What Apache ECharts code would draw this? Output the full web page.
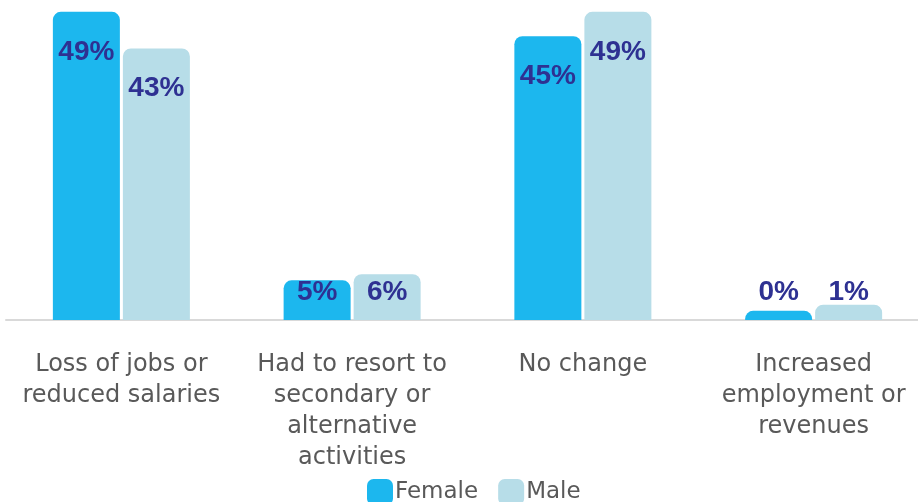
<!DOCTYPE html>
<html>
<head>
<meta charset="utf-8">
<script src="https://cdn.jsdelivr.net/npm/echarts@6/dist/echarts.min.js"></script>
<style>
    html, body { margin: 0; padding: 0; background: #fff; }
    #main { width: 918px; height: 502px; }
</style>
</head>
<body>
<div id="main"></div>
<script>
const categories = [
    'Loss of jobs or\nreduced salaries',
    'Had to resort to\nsecondary or\nalternative\nactivities',
    'No change',
    'Increased\nemployment or\nrevenues'
];
const female = [49, 5, 45, 0];
const male = [43, 6, 49, 1];
// the source value axis starts a little below zero
const axisMin = -1.5;
const axisMax = 49.3;

const femaleColor = '#1CB7EE';
const maleColor = '#B7DDE8';
const labelColor = '#2E3192';

window.addEventListener('load', function () {
    let chart = echarts.init(document.getElementById('main'));

    function withLabels(values) {
        return values.map(function (v) {
            let big = v >= 10;
            return {
                value: v,
                label: {
                    position: big ? 'insideTop' : 'insideBottom',
                    distance: big ? 26 : 14
                }
            };
        });
    }

    let valueLabel = {
        show: true,
        formatter: '{c}%',
        color: labelColor,
        fontFamily: 'Liberation Sans',
        fontWeight: 'bold',
        fontSize: 28
    };

    let option = {
        animation: false,
        grid: { left: 6, width: 923, top: 10, bottom: 182, outerBoundsMode: 'none' },
        legend: {
            bottom: -8,
            left: 362,
            data: ['Female', 'Male'],
            itemWidth: 26,
            itemHeight: 26,
            itemGap: 20,
            icon: 'roundRect',
            textStyle: {
                color: '#595959',
                fontFamily: 'DejaVu Sans',
                fontSize: 23,
                padding: [0, 0, 0, -3]
            }
        },
        xAxis: {
            type: 'category',
            data: categories,
            axisTick: { show: false },
            axisLine: { onZero: false, lineStyle: { color: '#D9D9D9', width: 2 } },
            axisLabel: {
                color: '#595959',
                fontFamily: 'DejaVu Sans',
                fontSize: 24,
                lineHeight: 31,
                margin: 29,
                interval: 0
            }
        },
        yAxis: {
            type: 'value',
            min: axisMin,
            max: axisMax,
            startValue: axisMin,
            show: false,
            splitLine: { show: false }
        },
        series: [
            {
                name: 'Female',
                type: 'bar',
                barWidth: 67,
                barGap: '4.5%',
                itemStyle: { color: femaleColor, borderRadius: [8, 8, 0, 0] },
                label: valueLabel,
                data: withLabels(female)
            },
            {
                name: 'Male',
                type: 'bar',
                barWidth: 67,
                barGap: '4.5%',
                itemStyle: { color: maleColor, borderRadius: [8, 8, 0, 0] },
                label: valueLabel,
                data: withLabels(male)
            }
        ]
    };
    chart.setOption(option);
}, false);
</script>
</body>
</html>
